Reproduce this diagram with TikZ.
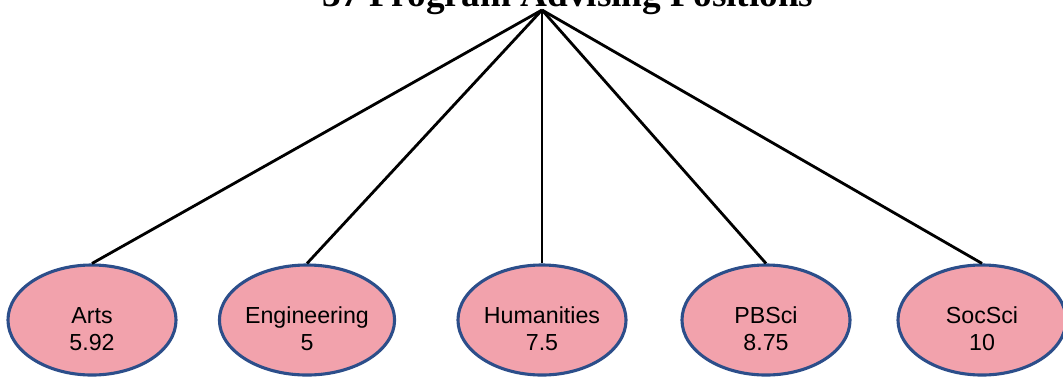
\documentclass[tikz,border=0pt]{standalone}
\usepackage{fontspec}
\setmainfont{Liberation Serif}
\setsansfont{Liberation Sans}
\usetikzlibrary{shapes.geometric}
\definecolor{pinkfill}{RGB}{242,162,172}
\definecolor{rimblue}{RGB}{44,78,138}
\newcommand{\lowstrut}{\rule{0pt}{24pt}}
\tikzset{
  unit/.style={ellipse, draw=rimblue, line width=2.2pt, fill=pinkfill,
    minimum width=4.2cm, minimum height=2.75cm, inner sep=0pt,
    align=center, font={\sffamily\fontsize{16.5}{19}\selectfont}},
  spoke/.style={black, line width=2pt}
}
\begin{document}
\begin{tikzpicture}[x=0.025cm, y=-0.025cm]
    \useasboundingbox (0,0) rectangle (1063,377);
    \node[anchor=base, font={\bfseries\fontsize{26.5}{30}\selectfont}] (title) at (568,6)
        {37 Program Advising Positions};
    \coordinate (top) at (542,10);
    \node[unit] (arts) at (92,320) {\lowstrut Arts\\5.92};
    \node[unit] (eng)  at (307,320) {\lowstrut Engineering\\5};
    \node[unit] (hum)  at (542,320) {\lowstrut Humanities\\7.5};
    \node[unit] (pbs)  at (766,320) {\lowstrut PBSci\\8.75};
    \node[unit] (soc)  at (982,320) {\lowstrut SocSci\\10};
    \foreach \n in {arts,eng,hum,pbs,soc}
        \draw[spoke] (top) -- (\n.north);
\end{tikzpicture}
\end{document}
